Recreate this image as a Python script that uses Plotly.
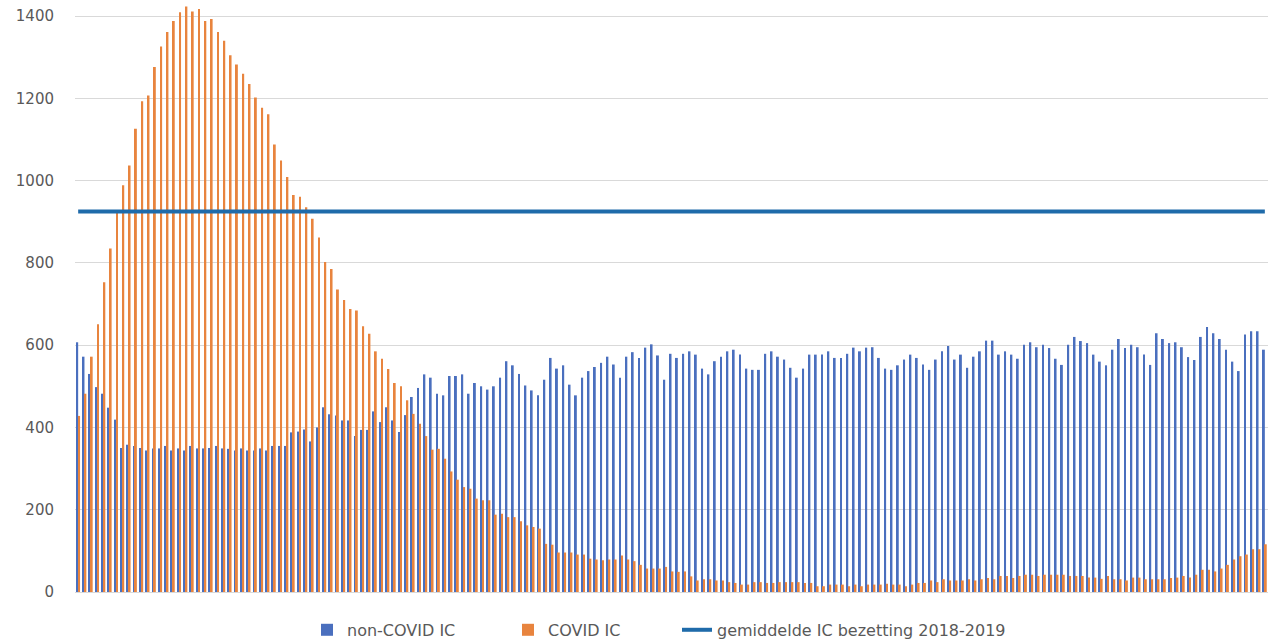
import plotly.graph_objects as go

non_covid_ic = [
    607, 572, 530, 498, 482, 448, 419, 350, 358, 355, 350, 344, 349, 349, 355, 344, 349, 344, 355, 349,
    349, 350, 355, 349, 348, 344, 349, 344, 344, 349, 344, 355, 355, 355, 388, 390, 395,
    366, 400, 449, 432, 429, 417, 417, 379, 394, 394, 439, 413, 449, 417, 389, 430, 474, 496, 529, 521,
    482, 478, 525, 525, 529, 482, 508, 500, 492, 500, 521, 561, 551, 530, 502, 490, 478,
    516, 569, 543, 551, 504, 478, 521, 537, 547, 557, 572, 553, 521, 572, 583, 569, 594, 602, 575, 516,
    579, 569, 579, 585, 577, 543, 529, 561, 572, 585, 589, 577, 543, 540, 540, 579,
    585, 572, 565, 545, 521, 543, 577, 577, 577, 585, 569, 569, 579, 594, 585, 594, 595, 569, 543, 540,
    551, 565, 577, 569, 553, 540, 565, 585, 598, 565, 577, 545, 572, 585, 611, 611, 577, 585,
    577, 567, 601, 607, 595, 601, 593, 567, 552, 601, 620, 610, 605, 577, 560, 551, 589, 615, 593, 601,
    595, 577, 552, 629, 615, 605, 607, 595, 571, 564, 620, 644, 629, 615, 589, 560, 537, 626, 634, 634, 589,
]

covid_ic = [
    428, 482, 572, 651, 753, 835, 926, 989, 1037, 1126, 1193, 1207, 1276, 1326, 1361, 1388, 1409, 1423,
    1411, 1417, 1388, 1393, 1361, 1340, 1305, 1282, 1260, 1235, 1202, 1177, 1161, 1088, 1049, 1009, 965,
    961, 935,
    907, 862, 802, 785, 735, 710, 688, 684, 646, 628, 585, 567, 542, 508, 500, 466, 433, 409, 379, 346,
    348, 324, 293, 273, 255, 251, 227, 223, 223, 188, 190, 182, 182, 172, 162, 158, 154,
    117, 115, 96, 96, 96, 91, 91, 81, 79, 77, 79, 79, 89, 79, 75, 66, 57, 57, 57, 61, 50, 49, 50, 38,
    28, 31, 31, 28, 28, 24, 22, 18, 18, 24, 24, 22,
    22, 24, 24, 24, 24, 22, 22, 14, 14, 18, 18, 18, 14, 18, 14, 18, 18, 18, 20, 18, 18, 14, 18, 22, 22,
    28, 24, 31, 28, 28, 28, 31, 28, 31, 34, 31, 39, 39,
    34, 39, 42, 42, 39, 42, 42, 42, 42, 39, 39, 39, 35, 35, 32, 39, 31, 31, 28, 35, 35, 31, 31, 31, 31,
    34, 35, 39, 35, 42, 54, 54, 50, 57, 66, 79, 87, 91, 104, 104, 116,
]

avg_ic_2018_2019 = 925

days = list(range(1, len(covid_ic) + 1))

series_names = ["non-COVID IC", "COVID IC", "gemiddelde IC bezetting 2018-2019"]
y_ticks = [0, 200, 400, 600, 800, 1000, 1200, 1400]

fig = go.Figure()
fig.add_trace(go.Bar(x=days, y=non_covid_ic, name=series_names[0], legend="legend",
                     marker=dict(color="#4A6FBE", line=dict(width=0))))
fig.add_trace(go.Bar(x=days, y=covid_ic, name=series_names[1], legend="legend2",
                     marker=dict(color="#E8843E", line=dict(width=0))))
fig.add_trace(go.Scatter(x=days, y=[avg_ic_2018_2019] * len(days), name=series_names[2],
                         legend="legend3", mode="lines", line=dict(color="#1F6BAA", width=4)))

L, R, T, B = 75, 2, 0, 50
PW = 1270 - L - R


def px_to_paper(px):
    return (px - L) / PW


leg_common = dict(orientation="h", y=-0.064, yanchor="middle", xanchor="left",
                  font=dict(size=16, color="#595959"), bgcolor="rgba(0,0,0,0)")

fig.update_layout(
    width=1270, height=642,
    margin=dict(l=L, r=R, t=T, b=B, autoexpand=False),
    paper_bgcolor="white", plot_bgcolor="white",
    barmode="group", bargap=0.4, bargroupgap=0,
    font=dict(family="DejaVu Sans", size=15, color="#595959"),
    showlegend=True,
    legend=dict(x=px_to_paper(307), **leg_common),
    legend2=dict(x=px_to_paper(508), **leg_common),
    legend3=dict(x=px_to_paper(677), **leg_common),
)
fig.update_xaxes(range=[0.5, len(days) + 0.5], showticklabels=False, showgrid=False,
                 zeroline=False, showline=False, ticks="", automargin=False)
fig.update_yaxes(range=[0, 1439], tickvals=y_ticks, ticktext=[str(v) for v in y_ticks],
                 showgrid=True, gridcolor="#D9D9D9", gridwidth=1, zeroline=True,
                 zerolinecolor="#D9D9D9", zerolinewidth=1, showline=False,
                 ticks="", ticklabelstandoff=20, automargin=False)

fig.write_html("out.html", config={"displayModeBar": False},
               post_script="document.body.style.margin='0';document.body.style.overflow='hidden';")
